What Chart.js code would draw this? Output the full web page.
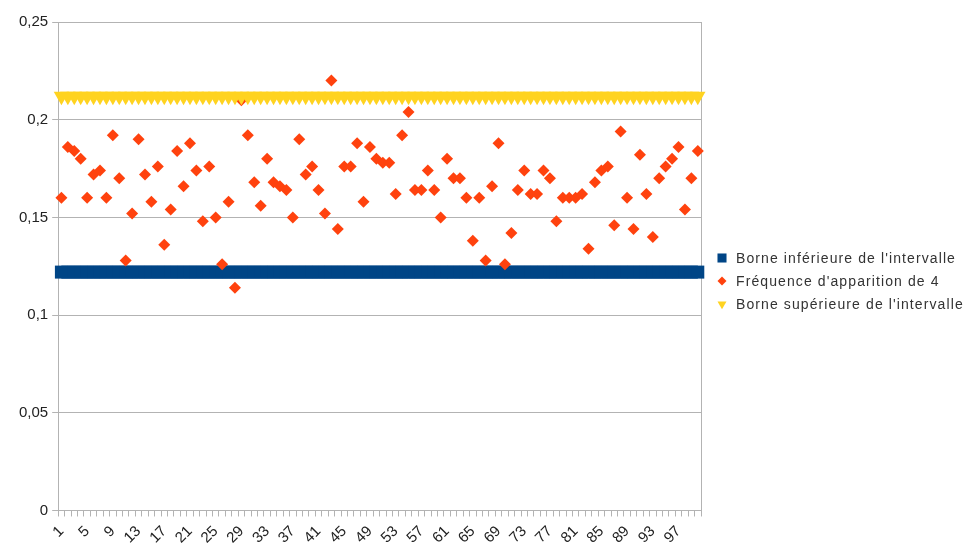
<!DOCTYPE html>
<html lang="fr">
<head>
<meta charset="utf-8">
<title>Fréquence d'apparition de 4</title>
<script src="https://cdn.jsdelivr.net/npm/chart.js@4.4.1/dist/chart.umd.min.js"></script>
<style>
  html, body { margin: 0; padding: 0; background: #fff; }
  #wrap { position: relative; width: 968px; height: 545px; }
  #chart { position: absolute; left: 0; top: 0; }
  #legend {
    position: absolute; left: 714px; top: 246px;
    font: 14px "Liberation Sans", Arial, sans-serif; color: #333;
    letter-spacing: 1.1px;
  }
  #legend .row { display: flex; align-items: center; height: 23px; white-space: nowrap; }
  #legend canvas { width: 16px; height: 16px; margin-right: 6px; }
</style>
</head>
<body>
<div id="wrap">
  <canvas id="chart" width="968" height="545"></canvas>
  <div id="legend"></div>
</div>
<script>
// Run numbers 1..100 on the horizontal axis
const categories = Array.from({ length: 100 }, (_, i) => String(i + 1));

// Labels actually printed under the axis
const shownTicks = ['1', '5', '9', '13', '17', '21', '25', '29', '33', '37', '41', '45', '49',
  '53', '57', '61', '65', '69', '73', '77', '81', '85', '89', '93', '97'];

// Interval bounds
const lowerBound = 0.122;
const upperBound = 0.212;

// Observed frequency of the face 4, one value per run
const frequency = [
  0.160, 0.186, 0.184, 0.180, 0.160, 0.172, 0.174, 0.160, 0.192, 0.170,
  0.128, 0.152, 0.190, 0.172, 0.158, 0.176, 0.136, 0.154, 0.184, 0.166,
  0.188, 0.174, 0.148, 0.176, 0.150, 0.126, 0.158, 0.114, 0.210, 0.192,
  0.168, 0.156, 0.180, 0.168, 0.166, 0.164, 0.150, 0.190, 0.172, 0.176,
  0.164, 0.152, 0.220, 0.144, 0.176, 0.176, 0.188, 0.158, 0.186, 0.180,
  0.178, 0.178, 0.162, 0.192, 0.204, 0.164, 0.164, 0.174, 0.164, 0.150,
  0.180, 0.170, 0.170, 0.160, 0.138, 0.160, 0.128, 0.166, 0.188, 0.126,
  0.142, 0.164, 0.174, 0.162, 0.162, 0.174, 0.170, 0.148, 0.160, 0.160,
  0.160, 0.162, 0.134, 0.168, 0.174, 0.176, 0.146, 0.194, 0.160, 0.144,
  0.182, 0.162, 0.140, 0.170, 0.176, 0.180, 0.186, 0.154, 0.170, 0.184
];

const lowerData = categories.map(() => lowerBound);
const upperData = categories.map(() => upperBound);

const FONT = '"Liberation Sans", Arial, sans-serif';
const GRID = '#b3b3b3';

// Builds the legend beside the plot from the datasets' own point styles
const htmlLegend = {
  id: 'htmlLegend',
  afterUpdate(chart) {
    const box = document.getElementById('legend');
    box.innerHTML = '';
    chart.data.datasets.forEach(ds => {
      const row = document.createElement('div');
      row.className = 'row';
      const c = document.createElement('canvas');
      c.width = 16; c.height = 16;
      const g = c.getContext('2d');
      g.fillStyle = ds.backgroundColor;
      g.strokeStyle = ds.backgroundColor;
      const opts = { pointStyle: ds.pointStyle, radius: ds.legendRadius, rotation: ds.rotation || 0, borderWidth: 0 };
      if (Chart.helpers && Chart.helpers.drawPoint) {
        Chart.helpers.drawPoint(g, opts, 8, 8);
      }
      const span = document.createElement('span');
      span.textContent = ds.label;
      row.appendChild(c);
      row.appendChild(span);
      box.appendChild(row);
    });
  }
};

new Chart(document.getElementById('chart'), {
  type: 'line',
  data: {
    labels: categories,
    datasets: [
      {
        label: "Borne inférieure de l'intervalle",
        data: lowerData,
        showLine: false,
        pointStyle: 'rect',
        pointRadius: 9.2,
        legendRadius: 6.4,
        backgroundColor: '#004586',
        borderColor: '#004586',
        pointBorderWidth: 0,
        clip: false,
        order: 3
      },
      {
        label: "Fréquence d'apparition de 4",
        data: frequency,
        showLine: false,
        pointStyle: 'rectRot',
        pointRadius: 6,
        legendRadius: 4.5,
        backgroundColor: '#ff420e',
        borderColor: '#ff420e',
        pointBorderWidth: 0,
        clip: false,
        order: 2
      },
      {
        label: "Borne supérieure de l'intervalle",
        data: upperData,
        showLine: false,
        pointStyle: 'triangle',
        rotation: 180,
        pointRotation: 180,
        pointRadius: 8.9,
        legendRadius: 5.2,
        backgroundColor: '#ffd320',
        borderColor: '#ffd320',
        pointBorderWidth: 0,
        clip: false,
        order: 1
      }
    ]
  },
  options: {
    responsive: false,
    animation: false,
    layout: { padding: { left: 15, right: 267, top: 22, bottom: -8 } },
    plugins: {
      legend: { display: false },
      tooltip: { enabled: false }
    },
    scales: {
      x: {
        type: 'category',
        offset: true,
        grid: {
          offset: true,
          drawOnChartArea: true,
          color: ctx => (ctx.type === 'scale' ? GRID : 'rgba(0,0,0,0)'),
          tickColor: GRID,
          tickLength: 6
        },
        border: { display: true, color: GRID },
        ticks: {
          autoSkip: false,
          minRotation: 45,
          maxRotation: 45,
          padding: 6,
          color: '#222',
          font: { family: FONT, size: 15 },
          callback(value) {
            const l = this.getLabelForValue(value);
            return shownTicks.includes(l) ? l : '';
          }
        }
      },
      y: {
        min: 0,
        max: 0.25,
        grid: { color: GRID, tickLength: 6 },
        border: { display: true, color: GRID },
        ticks: {
          stepSize: 0.05,
          padding: 4,
          color: '#222',
          font: { family: FONT, size: 15 },
          callback: v => String(Number(v.toFixed(2))).replace('.', ',')
        }
      }
    }
  },
  plugins: [htmlLegend]
});
</script>
</body>
</html>
